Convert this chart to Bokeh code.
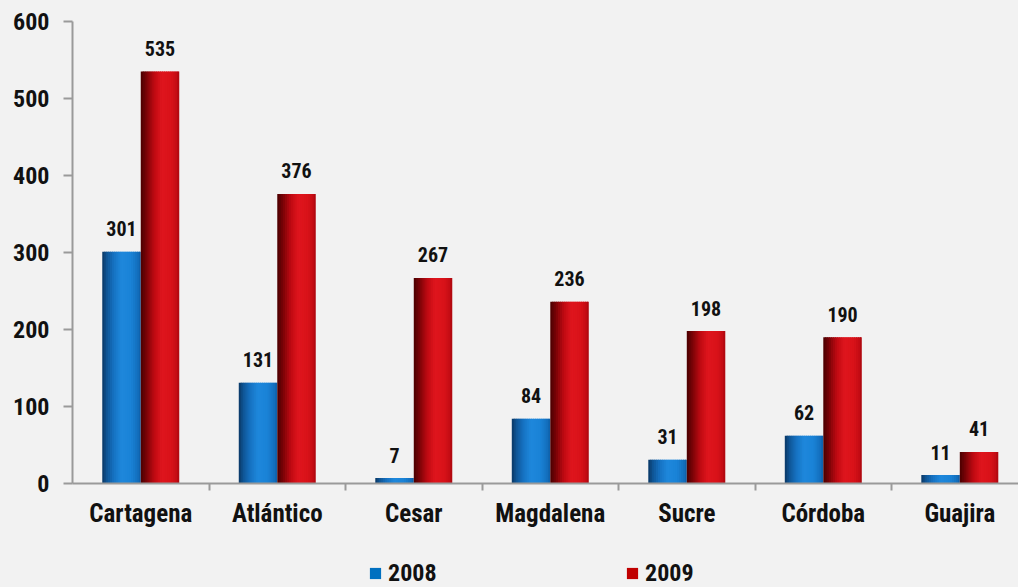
from bokeh.plotting import figure
from bokeh.layouts import column
from bokeh.models import (ColumnDataSource, FixedTicker, Legend, LegendItem, Range1d)
from bokeh.core.properties import value
from bokeh.embed import file_html
from bokeh.resources import INLINE

# ---- data ----
categories = ["Cartagena", "Atlántico", "Cesar", "Magdalena", "Sucre", "Córdoba", "Guajira"]
series_names = ["2008", "2009"]
values_2008 = [301, 131, 7, 84, 31, 62, 11]
values_2009 = [535, 376, 267, 236, 198, 190, 41]
y_ticks = [0, 100, 200, 300, 400, 500, 600]

FONT = "Roboto Condensed"
BG = "#f2f2f2"
AXIS_COL = "#9a9a9a"
TXT = "#111111"

p = figure(width=1018, height=540, output_backend="svg", toolbar_location=None,
           x_range=Range1d(0, 6.93), y_range=Range1d(0, 600),
           min_border_left=72, min_border_right=0, min_border_top=21, min_border_bottom=57)
p.background_fill_color = BG
p.border_fill_color = BG
p.outline_line_color = None
p.xgrid.visible = False
p.ygrid.visible = False

BAR_W = 0.282
N = 20


def hex2rgb(h):
    h = h.lstrip("#")
    return [int(h[i:i + 2], 16) for i in (0, 2, 4)]


def grad(stops, t):
    for (t0, c0), (t1, c1) in zip(stops[:-1], stops[1:]):
        if t0 <= t <= t1:
            f = (t - t0) / (t1 - t0) if t1 > t0 else 0
            a, b = hex2rgb(c0), hex2rgb(c1)
            return "#%02x%02x%02x" % tuple(int(round(a[i] + (b[i] - a[i]) * f)) for i in range(3))
    return stops[-1][1]


blue_stops = [(0.0, "#0a3763"), (0.12, "#0f5596"), (0.3, "#1672c2"), (0.5, "#1e88dc"),
              (0.75, "#1a82d6"), (0.92, "#136fbe"), (1.0, "#0d5ea6")]
red_stops = [(0.0, "#4a0000"), (0.15, "#7a0307"), (0.35, "#bf0a12"), (0.55, "#df151d"),
             (0.8, "#d81219"), (0.93, "#c40c14"), (1.0, "#a8070e")]

for vals, offset, stops in [(values_2008, -BAR_W / 2, blue_stops), (values_2009, BAR_W / 2, red_stops)]:
    lefts, rights, tops, cols = [], [], [], []
    step = BAR_W / N
    for i, v in enumerate(vals):
        bar_left = i + 0.5 + offset - BAR_W / 2
        bar_right = bar_left + BAR_W
        for k in range(N):
            lefts.append(bar_left + k * step)
            rights.append(min(bar_left + (k + 1.6) * step, bar_right))
            tops.append(v)
            cols.append(grad(stops, (k + 0.5) / N))
    src = ColumnDataSource(dict(left=lefts, right=rights, top=tops, color=cols))
    p.quad(left="left", right="right", top="top", bottom=0, source=src,
           fill_color="color", line_color=None)

    lab = ColumnDataSource(dict(x=[i + 0.5 + offset for i in range(len(vals))], y=vals,
                                t=[str(v) for v in vals]))
    p.text(x="x", y="y", text="t", source=lab, text_align="center", text_baseline="alphabetic",
           y_offset=-23, text_font=value(FONT), text_font_style="bold", text_font_size="20px",
           text_color=TXT)

# y axis
ya = p.yaxis[0]
ya.ticker = FixedTicker(ticks=y_ticks, minor_ticks=[])
ya.axis_line_color = AXIS_COL
ya.axis_line_width = 2
ya.major_tick_line_color = AXIS_COL
ya.major_tick_line_width = 2
ya.major_tick_in = 0
ya.major_tick_out = 9
ya.minor_tick_line_color = None
ya.major_label_standoff = 14
ya.major_label_text_font = FONT
ya.major_label_text_font_style = "bold"
ya.major_label_text_font_size = "24px"
ya.major_label_text_color = TXT

# x axis
xa = p.xaxis[0]
xa.ticker = FixedTicker(ticks=[i + 0.5 for i in range(len(categories))],
                        minor_ticks=[float(i) for i in range(1, len(categories))])
xa.major_label_overrides = {i + 0.5: c for i, c in enumerate(categories)}
xa.axis_line_color = AXIS_COL
xa.axis_line_width = 2
xa.major_tick_line_color = None
xa.major_tick_in = 0
xa.major_tick_out = 0
xa.minor_tick_line_color = AXIS_COL
xa.minor_tick_line_width = 2
xa.minor_tick_in = 0
xa.minor_tick_out = 7
xa.major_label_standoff = 8
xa.major_label_text_font = FONT
xa.major_label_text_font_style = "bold"
xa.major_label_text_font_size = "25px"
xa.major_label_text_color = TXT

# legend strip (separate small figure below the chart)
q = figure(width=1018, height=47, output_backend="svg", toolbar_location=None,
           x_range=Range1d(0, 1), y_range=Range1d(0, 1),
           min_border_left=0, min_border_right=0, min_border_top=0, min_border_bottom=0)
q.axis.visible = False
q.grid.visible = False
q.outline_line_color = None
q.background_fill_color = BG
q.border_fill_color = BG

legend_colors = ["#0070c0", "#c00000"]
legend_x = [296, 553]
for k, (name, col, lx) in enumerate(zip(series_names, legend_colors, legend_x)):
    r = q.vbar(x=[k], top=[0], width=0, fill_color=col, line_color=None)
    lg = Legend(items=[LegendItem(label=name, renderers=[r])], location=(lx, 0),
                glyph_width=14, glyph_height=14, label_standoff=6,
                label_text_font=FONT, label_text_font_style="bold", label_text_font_size="24px",
                label_text_color=TXT, background_fill_alpha=0, border_line_color=None,
                margin=0, padding=0)
    q.add_layout(lg, "center")

layout = column(p, q, spacing=0, styles={"background-color": BG})
open("out.html", "w").write(file_html(layout, INLINE))
